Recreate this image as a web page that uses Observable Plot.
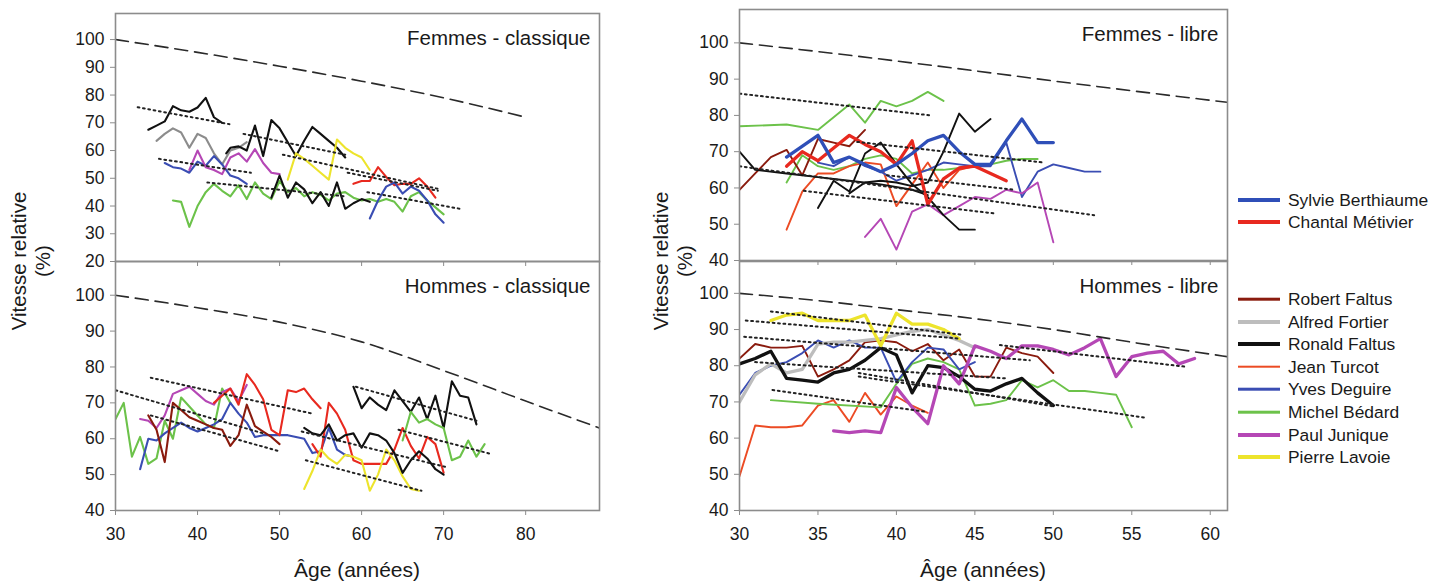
<!DOCTYPE html>
<html><head><meta charset="utf-8">
<script src="https://cdn.jsdelivr.net/npm/d3@7"></script>
<script src="https://cdn.jsdelivr.net/npm/@observablehq/plot@0.6"></script>
<style>
html,body{margin:0;padding:0;background:#fff;}
#wrap{position:relative;width:1432px;height:581px;overflow:hidden;font-family:"Liberation Sans",Arial,sans-serif;color:#1a1a1a;}
.ylab{position:absolute;width:240px;text-align:center;font-size:20.5px;line-height:24px;transform:translate(-50%,-50%) rotate(-90deg);white-space:nowrap;}
.xlab{position:absolute;font-size:21px;transform:translate(-50%,-50%);white-space:nowrap;}
.leg{position:absolute;font-size:17.4px;white-space:nowrap;transform:translateY(-50%);}
.sw{position:absolute;width:42px;transform:translateY(-50%);}
</style></head>
<body><div id="wrap"></div>
<script>
// ---------- DATA ----------
// Tick labels
const xTicksClassique = [30, 40, 50, 60, 70, 80];
const xTicksLibre = [30, 35, 40, 45, 50, 55, 60];
const yTicksFemmesClassique = [20, 30, 40, 50, 60, 70, 80, 90, 100];
const yTicks40 = [40, 50, 60, 70, 80, 90, 100];

// Femmes - classique : [âge, vitesse relative %]
const fcBlack1 = [[34,67.5],[35,69],[36,70.5],[37,76],[38,74.5],[39,74],[40,75.5],[41,79],[42,72],[43,70]];
const fcGray = [[35,63.5],[36,66],[37,68],[38,66.5],[39,61],[40,66],[41,64.5],[42,59],[43,55],[44,60],[45,61],[46,63]];
const fcMagenta = [[39,53],[40,60],[41,54],[42,53],[43,51.5],[44,57.5],[45,59],[46,56],[47,60.5],[48,55.5],[49,52],[50,51.5]];
const fcBlue1 = [[36,55.5],[37,54],[38,53.5],[39,52],[40,56],[41,54.5],[42,58],[43,55],[44,51],[45,50],[46,48]];
const fcGreen = [[37,42],[38,41.5],[39,32.5],[40,40],[41,45],[42,48],[43,45.5],[44,43.5],[45,47.5],[46,42.5],[47,48.5],[48,44.5],[49,42.5],[50,49],[51,45],[52,46.5],[53,43.5],[54,45],[55,44],[56,42],[57,44.5],[58,45],[59,43],[60,42],[61,42.5],[62,41.5],[63,42.5],[64,41.5],[65,38],[66,43.5],[67,45],[68,42],[69,39.5],[70,37]];
const fcBlack2 = [[43.5,59],[44,61],[45,61.5],[46,60],[47,69],[48,58],[49,71],[50,68],[51,63],[52,58],[53,63.5],[54,68.5],[55,66],[56,63.5],[57,61],[58,57.5]];
const fcBlack3 = [[49,43],[50,51],[51,43],[52,48.5],[53,46],[54,41],[55,45],[56,40],[57,48.5],[58,39],[59,41],[60,42.5],[61,41.5]];
const fcYellow = [[51,49.5],[52,59],[53,57],[54,54.5],[55,52],[56,49.5],[57,64],[58,61],[59,59],[60,57.5],[61,53]];
const fcRed = [[59,48],[60,49],[61,49],[62,54],[63,50.5],[64,47.5],[65,48],[66,48],[67,50],[68,47],[69,43]];
const fcBlue2 = [[61,35.5],[62,42],[63,47],[64,48.5],[65,44.5],[66,47],[67,45.5],[68,42],[69,37],[70,34]];
const fcRef = [[30,100],[40,95.4],[50,90.4],[60,85],[70,79],[80,72]];
const fcTrends = [[[32.7,75.6],[43.9,69.5]],[[35.3,57],[46.5,52]],[[41.2,48.5],[58,43.5]],[[45.6,66],[58,58.5]],[[50.4,58.5],[69.6,46]],[[58.3,52],[69.3,45.5]],[[60.7,45],[72,39]]];

// Hommes - classique
const hcGreen1 = [[30,65.5],[31,70],[32,55],[33,60.5],[34,53],[35,54.5],[36,65],[37,60],[38,71.5],[39,69],[40,66.5],[41,64],[42,63],[43,74],[44,70]];
const hcBlue = [[33,51.5],[34,60],[35,59.5],[36,61.5],[37,63],[38,64.5],[39,63],[40,62],[41,63],[42,64],[43,65.5],[44,70],[45,67],[46,64.5],[47,60.5],[48,61],[49,61],[50,61],[51,61],[52,60.5],[53,60],[54,56],[55,56.5],[56,63],[57,57],[58,55.5],[59,55]];
const hcMagenta = [[33,65.5],[34,65],[35,63],[36,66.5],[37,72.5],[38,73.5],[39,74.5],[40,72.5],[41,70.5],[42,69.5],[43,73],[44,74],[45,70.5],[46,75]];
const hcBrown = [[34,66.5],[35,62.5],[36,53.5],[37,70],[38,68],[39,66],[40,65],[41,64],[42,63],[43,62.5],[44,58],[45,61],[46,69.5],[47,63.5],[48,62],[49,60.5],[50,58.5]];
const hcRed1 = [[42,70],[43,72],[44,74],[45,69.5],[46,78],[47,75],[48,71],[49,62.5],[50,61],[51,73.5],[52,73],[53,74],[54,71],[55,68.5]];
const hcRed2 = [[54,58.5],[55,55],[56,70],[57,67],[58,62.5],[59,54],[60,53],[61,53],[62,53],[63,53],[64,57],[65,63],[66,58],[67,54.5],[68,60.5],[69,58.5],[70,50.5]];
const hcYellow = [[53,46],[54,51],[55,57],[56,54.5],[57,53],[58,55.5],[59,55],[60,54],[61,45.5],[62,50],[63,57],[64,54],[65,49.5],[66,46],[67,45.5]];
const hcBlack1 = [[53,63],[54,61.5],[55,61],[56,64],[57,59.5],[58,61],[59,61.5],[60,57.5],[61,61.5],[62,61],[63,59.5],[64,56],[65,50.5],[66,54],[67,56.5],[68,54.5],[69,51.5],[70,50]];
const hcBlack2 = [[59,74.5],[60,68.5],[61,71.5],[62,69.5],[63,68],[64,73.5],[65,70.5],[66,67.5],[67,71.5],[68,65.5],[69,72],[70,63],[71,76],[72,72],[73,71.5],[74,64]];
const hcGreen2 = [[65,59.5],[66,67.5],[67,64.5],[68,65.5],[69,64],[70,63],[71,54],[72,55],[73,59.5],[74,55],[75,58.5]];
const hcRef = [[30,100],[40,96.5],[50,92.5],[60,87],[70,79],[80,70.5],[89,63]];
const hcTrends = [[[30,73.5],[48,61.5]],[[34.3,77],[54,67]],[[34.3,66.5],[50,56.5]],[[52.7,62],[70.5,52]],[[53.2,54],[67.3,45.5]],[[59.3,74.5],[74,65]],[[64.5,62.5],[75.7,55.8]]];

// Femmes - libre
const flSylvie = [[33,68.5],[35,74.5],[36,67],[37,68.5],[38,66.5],[39,64.5],[40,66.5],[41,69.5],[42,73],[43,74.5],[44,70],[45,66.5],[46,66.5],[47,73],[48,79],[49,72.5],[50,72.5]];
const flChantal = [[33,66],[34,70],[35,67.5],[36,71],[37,74.5],[38,72],[39,70],[40,66.5],[41,73],[42,55.5],[43,62.5],[44,65.5],[45,66],[46,64],[47,62]];
const flGreen1 = [[30,77],[33,77.5],[35,76],[37,83],[38,78],[39,84],[40,82.5],[41,84],[42,86.5],[43,84]];
const flGreen2 = [[33,61.5],[34,69],[35,66],[36,65],[37,66],[38,68],[39,69],[40,68],[41,64],[42,65],[43,65],[44,65.5],[45,66],[46,66.5],[47,67.5],[48,68],[49,68]];
const flBrown = [[30,59.5],[31,64],[32,68.5],[33,70.5],[34,63.5],[35,73.5],[36,72.5],[37,71.5],[38,76]];
const flBlack1 = [[30,70],[31,65],[33,64],[35,63],[37,62],[39,61],[41,59.5],[42,58]];
const flBlack2 = [[35,54.5],[36,62],[37,59],[38,69.5],[39,72.5],[40,66.5],[41,61],[42,57.5],[43,52.5],[44,48.5],[45,48.5]];
const flBlack3 = [[37,58.5],[38,61.5],[39,62],[40,61.5],[41,60.5],[42,61.5],[43,70],[44,80.5],[45,75.5],[46,79]];
const flOrange = [[33,48.5],[34,59],[35,64],[36,64],[37,66],[38,67],[39,66.5],[40,55],[41,61],[42,67],[43,60],[44,65],[45,66]];
const flBlue = [[35,67],[36,66],[37,68.5],[38,66],[39,64.5],[40,62],[41,63.5],[42,65],[43,67],[44,66.5],[45,66],[46,66],[47,72.5],[48,57.5],[49,64.5],[50,66.5],[51,65.5],[52,64.5],[53,64.5]];
const flMagenta = [[38,46.5],[39,51.5],[40,43],[41,53.5],[42,55.5],[43,52.5],[44,55],[45,57.5],[46,57],[47,59.5],[48,58.5],[49,61.5],[50,45]];
const flRef = [[30,100],[35,97.6],[40,95],[45,92.3],[50,89.5],[55,86.8],[61.1,83.6]];
const flTrends = [[[30,86],[42.2,80]],[[37.5,72.7],[49.4,67]],[[30,66],[52.6,52.5]],[[34.1,59.2],[46.2,53]],[[39.4,63.5],[47.5,59.5]]];

// Hommes - libre
const hlRobert = [[30,82],[31,86],[32,85],[33,85],[34,85.5],[35,77],[36,79],[37,81.5],[38,86.5],[39,87],[40,86.5],[41,84],[42,86],[43,81.5],[44,84.5],[45,77],[46,77],[47,85],[48,83.5],[49,82.5],[50,78]];
const hlAlfred = [[30,70],[31,77.5],[32,80.5],[33,78],[34,79],[35,86],[36,86.5],[37,86.5],[38,87],[39,87.5],[40,88.5],[41,89.5],[42,90],[43,88.5],[44,87],[45,85]];
const hlRonald = [[30,80.5],[31,82],[32,84],[33,76.5],[34,76],[35,75.5],[36,78],[37,79],[38,81.5],[39,85],[40,83],[41,72.5],[42,80],[43,79.5],[44,77],[45,73.5],[46,73],[47,75],[48,76.5],[49,72.5],[50,69]];
const hlJean = [[30,49.5],[31,63.5],[32,63],[33,63],[34,63.5],[35,69],[36,70.5],[37,64.5],[38,72.5],[39,66.5],[40,71.5],[41,69],[42,67]];
const hlYves = [[30,72],[31,78],[32,80],[33,81],[34,83.5],[35,87],[36,85],[37,87],[38,85],[39,85],[40,75.5],[41,81],[42,85],[43,84.5],[44,79],[45,81]];
const hlMichel = [[32,70.5],[35,69.5],[39,68.5],[40,75],[41,80.5],[42,82],[43,81],[44,79],[45,69],[46,69.5],[47,70.5],[48,76],[49,74],[50,76],[51,73],[52,73],[53,72.5],[54,72],[55,63]];
const hlPaul = [[36,62],[37,61.5],[38,62],[39,61.5],[40,74],[41,68.5],[42,64],[43,80],[44,75],[45,85.5],[46,84],[47,82],[48,85.5],[49,85.5],[50,84.5],[51,83],[52,85],[53,87.5],[54,77],[55,82.5],[56,83.5],[57,84],[58,80.5],[59,82]];
const hlPierre = [[32,92.5],[33,94],[34,94.5],[35,92.5],[36,92.5],[37,92.5],[38,94],[39,85.5],[40,94.5],[41,91.5],[42,91.5],[43,90],[44,87.5]];
const hlRef = [[30,100],[35,98],[40,95.5],[45,93],[50,90],[55,86.5],[61.1,82.5]];
const hlTrends = [[[32,95],[44.1,88.6]],[[30.4,92.5],[44,87.5]],[[30.3,88],[48.5,81.5]],[[31,81],[47,76.5]],[[37.6,78],[50.1,68.7]],[[37.6,77],[55.8,65.7]],[[32.1,73.3],[41.8,67.3]],[[46.6,85.7],[58.5,79.7]]];

// Legend names
const womenNames = ["Sylvie Berthiaume", "Chantal Métivier"];
const menNames = ["Robert Faltus", "Alfred Fortier", "Ronald Faltus", "Jean Turcot", "Yves Deguire", "Michel Bédard", "Paul Junique", "Pierre Lavoie"];

// ---------- STYLES ----------
const COL = {black:"#111111", gray:"#8c8c8c", lightgray:"#bdbdbd", blue:"#3a4db3", sblue:"#2f4fb8", magenta:"#b547b5", green:"#6cc24a", yellow:"#ede42c", red:"#e8291f", orange:"#ec4b24", brown:"#8a1b0e"};
const THIN = 1.9, THICK = 3.3, CL = 2.1;
const womenStyle = [[COL.sblue, THICK],[COL.red, THICK]];
const menStyle = [[COL.brown, THIN],[COL.lightgray, THICK],[COL.black, THICK],[COL.orange, THIN],[COL.blue, THIN],[COL.green, THIN],[COL.magenta, THICK],[COL.yellow, THICK]];

const wrap = document.getElementById("wrap");
function place(el, left, top){ el.style.position = "absolute"; el.style.left = left + "px"; el.style.top = top + "px"; wrap.appendChild(el); }

const FONT = '"Liberation Sans", Arial, sans-serif';
function makePanel(p){
  const mL = 60, mR = 4, mT = 4, mB = p.bottom ? 40 : 10;
  const W = p.x1 - p.x0, H = p.y1 - p.y0;
  const X = d => d[0], Y = d => d[1];
  const marks = [];
  for (const s of p.series) marks.push(Plot.line(s[0], {x: X, y: Y, stroke: s[1], strokeWidth: s[2], strokeLinejoin: "round", clip: true}));
  for (const t of p.trends) marks.push(Plot.line(t, {x: X, y: Y, stroke: "#222", strokeWidth: 2, strokeDasharray: "1.8,3.6", clip: true}));
  marks.push(Plot.line(p.ref, {x: X, y: Y, stroke: "#2a2a2a", strokeWidth: 1.6, strokeDasharray: "13,7", curve: "monotone-x", clip: true}));
  marks.push(Plot.frame({stroke: "#8c8c8c", strokeWidth: 1.6}));
  marks.push(Plot.axisY({ticks: p.yTicks, tickSize: 5, tickPadding: 6, stroke: "#8c8c8c", fill: "#1a1a1a", fontSize: 17.5, label: null}));
  marks.push(Plot.axisX({ticks: p.xTicks, tickSize: 5, tickPadding: 12, stroke: "#8c8c8c", fill: "#1a1a1a", fontSize: 17.5, label: null,
    tickFormat: p.bottom ? (d => String(d)) : (() => "")}));
  marks.push(Plot.text([p.title], {frameAnchor: "top-right", dx: -9, dy: 17, lineAnchor: "top", textAnchor: "end", fontSize: 20.5, fill: "#1a1a1a"}));
  const svg = Plot.plot({
    width: W + mL + mR, height: H + mT + mB,
    marginLeft: mL, marginRight: mR, marginTop: mT, marginBottom: mB,
    x: {domain: p.xDomain}, y: {domain: p.yDomain},
    style: {background: "transparent", fontFamily: FONT, fontSize: "17.5px", color: "#1a1a1a", overflow: "visible"},
    marks
  });
  place(svg, p.x0 - mL, p.y0 - mT);
}

// bottom panels first, top panels after (their ticks overlap the shared border)
makePanel({title: "Hommes - classique", x0: 115, x1: 599, y0: 261, y1: 510, xDomain: [30, 89], yDomain: [40, 109.4], xTicks: xTicksClassique, yTicks: yTicks40, bottom: true,
  series: [[hcGreen1, COL.green, CL],[hcBlue, COL.blue, CL],[hcMagenta, COL.magenta, CL],[hcBrown, COL.brown, CL],[hcRed1, COL.red, CL],[hcRed2, COL.red, CL],[hcYellow, COL.yellow, CL],[hcBlack1, COL.black, CL],[hcBlack2, COL.black, CL],[hcGreen2, COL.green, CL]],
  trends: hcTrends, ref: hcRef});
makePanel({title: "Hommes - libre", x0: 739, x1: 1227, y0: 261, y1: 510, xDomain: [30, 61.1], yDomain: [40, 108.8], xTicks: xTicksLibre, yTicks: yTicks40, bottom: true,
  series: [[hlJean, COL.orange, THIN],[hlMichel, COL.green, THIN],[hlRobert, COL.brown, THIN],[hlYves, COL.blue, THIN],[hlAlfred, COL.lightgray, THICK],[hlRonald, COL.black, THICK],[hlPaul, COL.magenta, THICK],[hlPierre, COL.yellow, THICK]],
  trends: hlTrends, ref: hlRef});
makePanel({title: "Femmes - classique", x0: 115, x1: 599, y0: 13, y1: 261, xDomain: [30, 89], yDomain: [20, 109.4], xTicks: xTicksClassique, yTicks: yTicksFemmesClassique, bottom: false,
  series: [[fcGreen, COL.green, CL],[fcGray, COL.gray, CL],[fcBlue1, COL.blue, CL],[fcMagenta, COL.magenta, CL],[fcBlack1, COL.black, CL],[fcBlack2, COL.black, CL],[fcBlack3, COL.black, CL],[fcYellow, COL.yellow, CL],[fcRed, COL.red, CL],[fcBlue2, COL.blue, CL]],
  trends: fcTrends, ref: fcRef});
makePanel({title: "Femmes - libre", x0: 739, x1: 1227, y0: 9, y1: 260, xDomain: [30, 61.1], yDomain: [40, 109.2], xTicks: xTicksLibre, yTicks: yTicks40, bottom: false,
  series: [[flGreen1, COL.green, THIN],[flGreen2, COL.green, THIN],[flBrown, COL.brown, THIN],[flOrange, COL.orange, THIN],[flBlue, COL.blue, THIN],[flMagenta, COL.magenta, THIN],[flBlack1, COL.black, THIN],[flBlack2, COL.black, THIN],[flBlack3, COL.black, THIN],[flChantal, COL.red, THICK],[flSylvie, COL.sblue, THICK]],
  trends: flTrends, ref: flRef});

// axis titles
function label(cls, html, x, y){ const d = document.createElement("div"); d.className = cls; d.innerHTML = html; d.style.left = x + "px"; d.style.top = y + "px"; wrap.appendChild(d); }
label("ylab", "Vitesse relative<br>(%)", 31, 261);
label("ylab", "Vitesse relative<br>(%)", 673, 261);
label("xlab", "Âge (années)", 357, 570);
label("xlab", "Âge (années)", 983, 570);

// legend
function legendRow(name, color, w, y){
  const s = document.createElement("div"); s.className = "sw";
  s.style.left = "1238px"; s.style.top = y + "px"; s.style.height = w + "px"; s.style.background = color;
  wrap.appendChild(s);
  const t = document.createElement("div"); t.className = "leg"; t.textContent = name;
  t.style.left = "1288px"; t.style.top = y + "px"; wrap.appendChild(t);
}
womenNames.forEach((n, i) => legendRow(n, womenStyle[i][0], womenStyle[i][1] + 0.7, 200 + i * 22.4));
menNames.forEach((n, i) => legendRow(n, menStyle[i][0], menStyle[i][1] + 0.7, 299 + i * 22.6));
</script>
</body></html>
